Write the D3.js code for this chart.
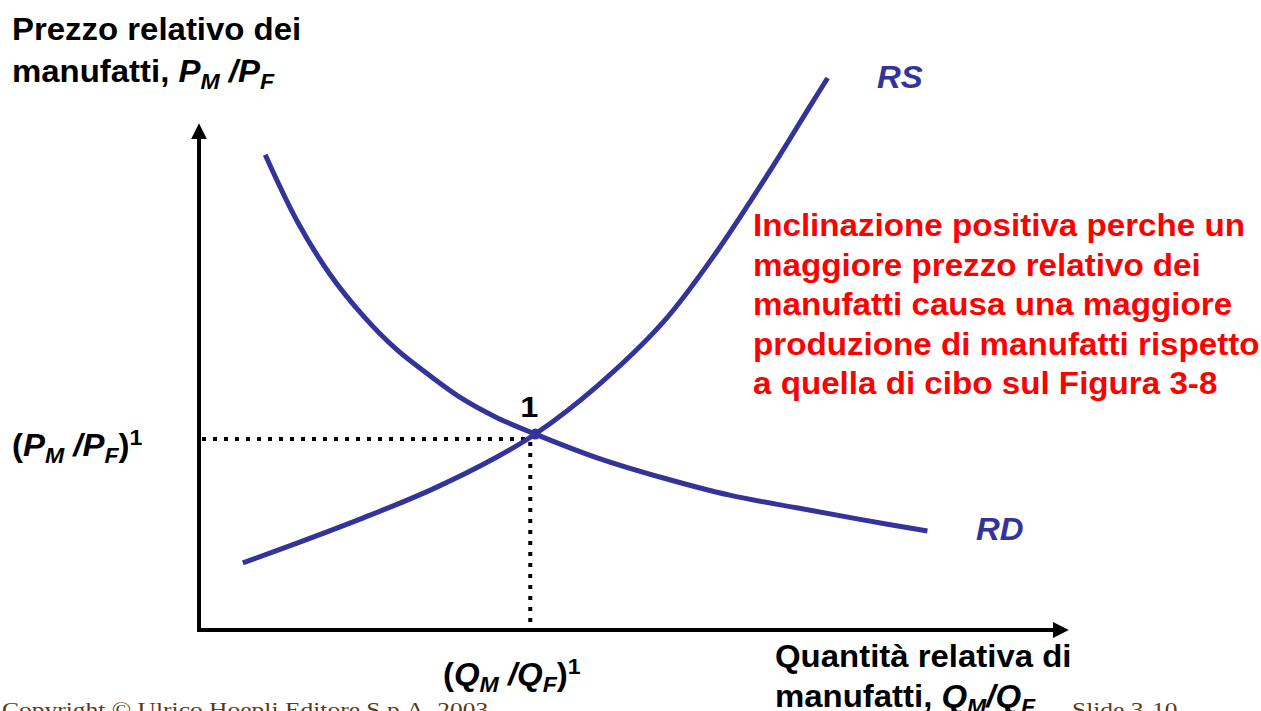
<!DOCTYPE html>
<html>
<head>
<meta charset="utf-8">
<script src="https://cdn.jsdelivr.net/npm/d3@7"></script>
<style>
  body { margin: 0; background: #fff; }
  svg { display: block; }
  .lab { font-family: Arial, "Liberation Sans", sans-serif; font-weight: bold; }
</style>
</head>
<body>
<svg id="chart"></svg>
<script>
var width = 1261,
    height = 711;

// curve points, in chart units (x: relative quantity, y: relative price)
var rsX = [5.1, 11.4, 19.1, 26.9, 34.7, 39.1, 46.3, 54.0, 60.2, 67.2, 71.0, 73.1];
var rsY = [13.3, 17.2, 22.2, 27.7, 34.3, 38.8, 48.3, 61.0, 74.9, 93.1, 103.6, 109.3];

var rdX = [7.7, 11.4, 15.2, 19.1, 23.0, 26.9, 30.7, 34.7, 39.1, 46.3, 54.0, 61.7, 69.5, 77.2, 84.7];
var rdY = [94.1, 81.0, 70.5, 62.2, 55.5, 50.3, 45.7, 42.0, 38.8, 34.1, 30.1, 26.7, 24.2, 21.8, 19.6];

var equilibrium = [39.1, 38.8];

var noteLines = [
    "Inclinazione positiva perche un",
    "maggiore prezzo relativo dei",
    "manufatti causa una maggiore",
    "produzione di manufatti rispetto",
    "a quella di cibo sul Figura 3-8"
];

window.onload = function() {
    var svg = d3.select("#chart")
        .attr("width", width)
        .attr("height", height);

    var x = d3.scaleLinear().domain([0, 100]).range([199, 1059]);
    var y = d3.scaleLinear().domain([0, 100]).range([630, 125]);

    var blue = "#333399";
    var stretch = 1.08;

    // text placed at (px,py) and stretched a little sideways like the slide
    function label(px, py, size) {
        return svg.append("text").attr("class", "lab")
            .attr("transform", "translate(" + px + "," + py + ") scale(" + stretch + ",1)")
            .attr("font-size", size);
    }

    // axes with arrow heads
    var defs = svg.append("defs");
    defs.append("marker")
        .attr("id", "arrow")
        .attr("viewBox", "0 0 10 10")
        .attr("refX", 2).attr("refY", 5)
        .attr("markerWidth", 4).attr("markerHeight", 4)
        .attr("markerUnits", "strokeWidth")
        .attr("orient", "auto")
        .append("path")
        .attr("d", "M0,0 L10,5 L0,10 Z")
        .attr("fill", "#000");

    svg.append("line")
        .attr("x1", x(0)).attr("y1", y(0) + 2)
        .attr("x2", x(0)).attr("y2", 136)
        .attr("stroke", "#000").attr("stroke-width", 4)
        .attr("marker-end", "url(#arrow)");

    svg.append("line")
        .attr("x1", x(0) - 2).attr("y1", y(0))
        .attr("x2", 1056).attr("y2", y(0))
        .attr("stroke", "#000").attr("stroke-width", 4)
        .attr("marker-end", "url(#arrow)");

    // dotted guides to the equilibrium
    svg.append("line")
        .attr("x1", x(0) + 3).attr("y1", y(equilibrium[1]) + 5)
        .attr("x2", x(equilibrium[0]) - 4).attr("y2", y(equilibrium[1]) + 5)
        .attr("stroke", "#000").attr("stroke-width", 4)
        .attr("stroke-dasharray", "4,7");
    svg.append("line")
        .attr("x1", x(equilibrium[0]) - 5).attr("y1", y(equilibrium[1]) + 8)
        .attr("x2", x(equilibrium[0]) - 5).attr("y2", y(0))
        .attr("stroke", "#000").attr("stroke-width", 4)
        .attr("stroke-dasharray", "4,7");

    var line = d3.line()
        .x(function(d) { return x(d[0]); })
        .y(function(d) { return y(d[1]); })
        .curve(d3.curveCatmullRom.alpha(0.5));

    svg.append("path")
        .datum(d3.zip(rdX, rdY))
        .attr("d", line)
        .attr("fill", "none")
        .attr("stroke", blue)
        .attr("stroke-width", 5);

    svg.append("path")
        .datum(d3.zip(rsX, rsY))
        .attr("d", line)
        .attr("fill", "none")
        .attr("stroke", blue)
        .attr("stroke-width", 5);

    svg.append("circle")
        .attr("cx", x(equilibrium[0]))
        .attr("cy", y(equilibrium[1]))
        .attr("r", 5.5)
        .attr("fill", blue);

    // curve labels
    label(877, 88, 30.5).attr("font-style", "italic").attr("fill", blue).text("RS");
    label(976, 540, 30.5).attr("font-style", "italic").attr("fill", blue).text("RD");
    label(x(equilibrium[0]) - 15, 417, 30).text("1");

    // red note
    noteLines.forEach(function(d, i) {
        svg.append("text").attr("class", "lab")
            .attr("transform", "translate(753," + (236 + i * 39.5) + ") scale(1.07,1)")
            .attr("font-size", 31)
            .attr("fill", "#ff0000")
            .text(d);
    });

    // helper for P_M / P_F style labels
    function ratio(t, a, b, open, sup) {
        if (open) t.append("tspan").text("(");
        t.append("tspan").attr("font-style", "italic").text(a);
        t.append("tspan").attr("font-style", "italic").attr("font-size", "0.7em").attr("dy", 7).text("M");
        t.append("tspan").attr("font-style", "italic").attr("dy", -7).text(" /" + b);
        t.append("tspan").attr("font-style", "italic").attr("font-size", "0.7em").attr("dy", 7).text("F");
        if (sup) {
            t.append("tspan").attr("dy", -7).text(")");
            t.append("tspan").attr("font-size", "0.7em").attr("dy", -11).text("1");
        }
    }

    // y axis title
    label(12, 40, 30.5).text("Prezzo relativo dei");
    var t1 = label(12, 82, 30.5);
    t1.append("tspan").text("manufatti, ");
    ratio(t1, "P", "P", false, false);

    ratio(label(12, 456, 30.5), "P", "P", true, true);
    ratio(label(443, 685, 30.5), "Q", "Q", true, true);

    // x axis title
    label(775, 667, 30.5).text("Quantità relativa di");
    var t4 = label(775, 707, 30.5);
    t4.append("tspan").text("manufatti, ");
    t4.append("tspan").attr("font-style", "italic").text("Q");
    t4.append("tspan").attr("font-style", "italic").attr("font-size", "0.7em").attr("dy", 7).text("M");
    t4.append("tspan").attr("font-style", "italic").attr("dy", -7).text("/Q");
    t4.append("tspan").attr("font-style", "italic").attr("font-size", "0.7em").attr("dy", 7).text("F");

    // footer
    svg.append("text")
        .attr("transform", "translate(2,717) scale(1.16,1)")
        .attr("font-family", "'Times New Roman', 'Liberation Serif', serif")
        .attr("font-size", 22).attr("fill", "#5c3a12")
        .text("Copyright © Ulrico Hoepli Editore S.p.A. 2003");
    svg.append("text")
        .attr("transform", "translate(1072,717) scale(1.16,1)")
        .attr("font-family", "'Times New Roman', 'Liberation Serif', serif")
        .attr("font-size", 22).attr("fill", "#5c3a12")
        .text("Slide 3-10");
};
</script>
</body>
</html>
